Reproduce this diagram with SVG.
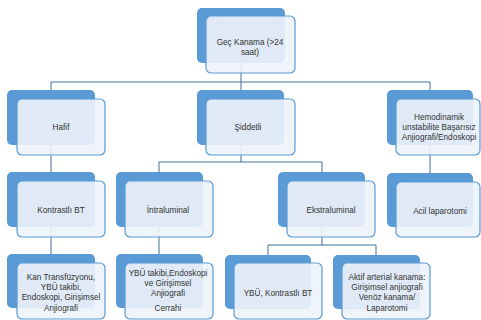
<svg xmlns="http://www.w3.org/2000/svg" width="481" height="320" viewBox="0 0 481 320">
<style>
.back{fill:#5B9BD5}
.front{fill:#EDF3FA;fill-opacity:0.9;stroke:#5B9BD5;stroke-width:1.2}
.t{font-family:"Liberation Sans",Arial,sans-serif;font-size:8.2px;fill:#333333;text-anchor:middle}
.c{stroke:#41719C;stroke-width:1;fill:none}
</style>
<rect width="481" height="320" fill="#ffffff"/>
<g id="connectors">
<path class="c" d="M241 63V82M51 82H430M51 82V90M241 82V90M430 82V90"/>
<path class="c" d="M51 145V172M241 145V162M159 162H322M159 162V172M322 162V172M430 145V173"/>
<path class="c" d="M51 227V254M159 227V254M322 227V245M268 245H376M268 245V255M376 245V255"/>
</g>
<g id="n-gec">
<rect class="back" x="197" y="8" width="88" height="55" rx="5"/>
<rect class="front" x="206" y="16" width="89" height="57" rx="5"/>
<text class="t" x="250" y="45">Geç Kanama (&gt;24</text>
<text class="t" x="250" y="55">saat)</text>
</g>
<g id="n-hafif">
<rect class="back" x="7" y="90" width="88" height="55" rx="5"/>
<rect class="front" x="17" y="99" width="88" height="56" rx="5"/>
<text class="t" x="61" y="130">Hafif</text>
</g>
<g id="n-siddetli">
<rect class="back" x="197" y="90" width="87" height="55" rx="5"/>
<rect class="front" x="206" y="99" width="89" height="56" rx="5"/>
<text class="t" x="248" y="130">Şiddetli</text>
</g>
<g id="n-hemo">
<rect class="back" x="387" y="90" width="86" height="55" rx="5"/>
<rect class="front" x="396" y="99" width="84" height="56" rx="5"/>
<text class="t" x="439" y="120">Hemodinamik</text>
<text class="t" x="439" y="130">unstabilite Başarısız</text>
<text class="t" x="439" y="140">Anjiografi/Endoskopi</text>
</g>
<g id="n-kontrast">
<rect class="back" x="7" y="172" width="88" height="55" rx="5"/>
<rect class="front" x="17" y="181" width="88" height="56" rx="5"/>
<text class="t" x="61" y="213">Kontrastlı BT</text>
</g>
<g id="n-intra">
<rect class="back" x="116" y="172" width="87" height="55" rx="5"/>
<rect class="front" x="125" y="181" width="88" height="56" rx="5"/>
<text class="t" x="168" y="213">İntraluminal</text>
</g>
<g id="n-ekstra">
<rect class="back" x="278" y="172" width="87" height="55" rx="5"/>
<rect class="front" x="287" y="181" width="88" height="56" rx="5"/>
<text class="t" x="331" y="213">Ekstraluminal</text>
</g>
<g id="n-acil">
<rect class="back" x="387" y="173" width="86" height="54" rx="5"/>
<rect class="front" x="396" y="182" width="84" height="55" rx="5"/>
<text class="t" x="440" y="214">Acil laparotomi</text>
</g>
<g id="n-kan">
<rect class="back" x="7" y="254" width="88" height="54" rx="5"/>
<rect class="front" x="17" y="263" width="88" height="56" rx="5"/>
<text class="t" x="61" y="280">Kan Transfüzyonu,</text>
<text class="t" x="61" y="290">YBÜ takibi,</text>
<text class="t" x="61" y="300">Endoskopi, Girişimsel</text>
<text class="t" x="61" y="311">Anjiografi</text>
</g>
<g id="n-ybutakip">
<rect class="back" x="116" y="254" width="87" height="54" rx="5"/>
<rect class="front" x="125" y="263" width="88" height="56" rx="5"/>
<text class="t" x="168" y="276">YBÜ takibi,Endoskopi</text>
<text class="t" x="168" y="286">ve  Girişimsel</text>
<text class="t" x="168" y="296">Anjiografi</text>
<text class="t" x="168" y="311">Cerrahi</text>
</g>
<g id="n-ybukontrast">
<rect class="back" x="225" y="255" width="86" height="54" rx="5"/>
<rect class="front" x="234" y="263" width="88" height="56" rx="5"/>
<text class="t" x="278" y="296">YBÜ, Kontrastlı BT</text>
</g>
<g id="n-aktif">
<rect class="back" x="333" y="255" width="87" height="54" rx="5"/>
<rect class="front" x="342" y="263" width="88" height="56" rx="5"/>
<text class="t" x="387" y="280">Aktif arterial kanama:</text>
<text class="t" x="387" y="290">Girişimsel anjiografi</text>
<text class="t" x="387" y="300">Venöz kanama/</text>
<text class="t" x="387" y="311">Laparotomi</text>
</g>
</svg>
